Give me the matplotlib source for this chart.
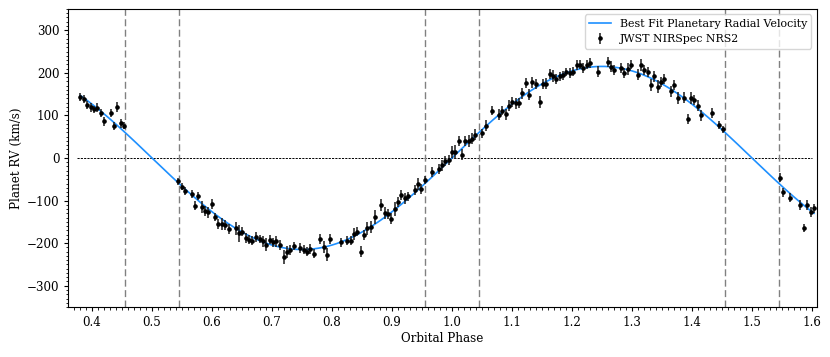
import numpy as np
import matplotlib
matplotlib.use("Agg")
import matplotlib.pyplot as plt
from matplotlib.ticker import MultipleLocator

# ---- data ----
phase_seg1 = [0.3805, 0.3862, 0.3922, 0.3978, 0.4033, 0.4088, 0.4145, 0.42, 0.4312,
              0.4367, 0.4422, 0.4478, 0.4533]
rv_seg1 = [143, 139, 125, 119, 114, 118, 106, 86, 106, 75, 120, 81, 76]
err_seg1 = [9, 9, 9, 10, 9, 10, 10, 11, 10, 10, 11, 10, 9]

phase_seg2 = [0.5438, 0.5495, 0.555, 0.5662, 0.5717, 0.5772, 0.5828, 0.5883, 0.5938, 0.5995,
              0.605, 0.6105, 0.6162, 0.6217, 0.6283, 0.6395, 0.645, 0.6505, 0.6562, 0.6617,
              0.6672, 0.6738, 0.6795, 0.685, 0.6905, 0.6962, 0.7017, 0.7072, 0.7128, 0.7195,
              0.725, 0.7305, 0.7362, 0.7472, 0.7528, 0.7583, 0.7638, 0.7695, 0.7805, 0.7862,
              0.7917, 0.7972, 0.8145, 0.8255, 0.8312, 0.8367, 0.8422, 0.8478, 0.8533, 0.8588,
              0.8645, 0.8712, 0.8822, 0.8878, 0.8933, 0.8988, 0.9045, 0.91, 0.9155, 0.9212,
              0.9267, 0.9378, 0.9433, 0.9488, 0.9555, 0.9667, 0.9778, 0.9833, 0.9888, 0.9945,
              1.0, 1.0055, 1.0112, 1.0167, 1.0222, 1.0278, 1.0333, 1.0388, 1.0505, 1.0562,
              1.0672, 1.0783, 1.0838, 1.0895, 1.095, 1.1005, 1.1062, 1.1117, 1.1172, 1.1228,
              1.1283, 1.1338, 1.1395, 1.1462, 1.1517, 1.1572, 1.1628, 1.1683, 1.1738, 1.1795,
              1.185, 1.1905, 1.1962, 1.2017, 1.2078, 1.2133, 1.2188, 1.2245, 1.23, 1.2428,
              1.2595, 1.265, 1.2705, 1.2817, 1.2872, 1.2928, 1.2983, 1.3095, 1.315, 1.3205,
              1.3262, 1.3317, 1.3372, 1.3428, 1.3483, 1.3538, 1.365, 1.3705, 1.3762, 1.3872,
              1.3928, 1.3983, 1.4038, 1.4095, 1.415, 1.4333, 1.445, 1.4512]
rv_seg2 = [-55, -67, -77, -85, -112, -89, -116, -124, -128, -108,
           -139, -155, -155, -157, -167, -165, -177, -173, -188, -192,
           -194, -186, -190, -196, -204, -192, -198, -196, -204, -233,
           -221, -217, -207, -211, -215, -220, -213, -225, -190, -209,
           -227, -190, -198, -194, -194, -178, -173, -220, -181, -165,
           -163, -139, -110, -129, -131, -143, -120, -104, -87, -95,
           -90, -75, -61, -73, -52, -33, -26, -17, -7, -4,
           14, 14, 40, 8, 40, 40, 45, 55, 58, 76,
           111, 102, 111, 103, 123, 131, 128, 129, 152, 176,
           149, 178, 173, 131, 174, 174, 198, 192, 185, 192,
           194, 202, 200, 203, 219, 219, 211, 219, 223, 203,
           225, 214, 207, 211, 200, 209, 219, 196, 219, 206,
           201, 172, 192, 167, 178, 186, 157, 172, 141, 141,
           92, 141, 137, 123, 100, 106, 77, 67]
err_seg2 = [8, 8, 9, 9, 11, 10, 14, 12, 12, 11,
            10, 12, 14, 11, 12, 15, 20, 11, 12, 10,
            10, 11, 10, 12, 15, 11, 10, 12, 12, 16,
            14, 12, 10, 11, 10, 10, 12, 11, 12, 13,
            15, 12, 11, 10, 11, 14, 11, 13, 12, 15,
            14, 16, 14, 14, 12, 13, 16, 12, 12, 13,
            11, 12, 14, 11, 10, 11, 12, 13, 11, 12,
            13, 16, 11, 12, 12, 14, 13, 12, 11, 12,
            11, 12, 11, 13, 12, 12, 14, 12, 13, 12,
            12, 13, 12, 14, 12, 13, 12, 14, 12, 11,
            11, 10, 12, 11, 12, 11, 12, 11, 11, 12,
            11, 13, 12, 11, 12, 13, 11, 13, 14, 12,
            12, 14, 13, 15, 12, 12, 13, 12, 14, 13,
            12, 15, 12, 12, 13, 11, 10, 9]

phase_seg3 = [1.5467, 1.5522, 1.5633, 1.58, 1.5867, 1.5922, 1.5978, 1.6033]
rv_seg3 = [-46, -81, -93, -110, -165, -110, -126, -118]
err_seg3 = [10, 10, 10, 11, 10, 11, 12, 11]

# best-fit circular-orbit model parameter (km/s)
fit_amplitude = 215.0
# transit / eclipse contact phases
contact_phases = [0.455, 0.545, 0.955, 1.045, 1.455, 1.545]

phase = np.array(phase_seg1 + phase_seg2 + phase_seg3)
rv = np.array(rv_seg1 + rv_seg2 + rv_seg3, dtype=float)
err = np.array(err_seg1 + err_seg2 + err_seg3, dtype=float)

plt.rcParams['font.family'] = ['DejaVu Serif']
plt.rcParams['font.size'] = 8.6

fig, ax = plt.subplots(figsize=(8.3, 3.57), dpi=100)
fig.subplots_adjust(left=0.0823, right=0.9843, bottom=0.14, top=0.975)

model_phase = np.linspace(phase.min(), phase.max(), 800)
model_rv = fit_amplitude * np.sin(2 * np.pi * model_phase)

ax.plot(model_phase, model_rv, color='#1E90FF', lw=1.2,
        label='Best Fit Planetary Radial Velocity', zorder=3)
ax.errorbar(phase, rv, yerr=err, fmt='o', color='k', ecolor='0.1', ms=2.3,
            elinewidth=1.1, capsize=0, label='JWST NIRSpec NRS2', zorder=4)

ax.hlines(0, phase.min() - 0.005, phase.max() - 0.003, colors='k',
          linestyles=(0, (2.2, 1.2)), lw=0.7, zorder=1)
for c in contact_phases:
    ax.axvline(c, color='grey', ls=(0, (5, 2.5)), lw=1.0, zorder=1)

ax.set_xlim(0.3605, 1.6083)
ax.set_ylim(-350, 350)
ax.xaxis.set_major_locator(MultipleLocator(0.1))
ax.xaxis.set_minor_locator(MultipleLocator(0.01))
ax.yaxis.set_major_locator(MultipleLocator(100))
ax.yaxis.set_minor_locator(MultipleLocator(10))
ax.tick_params(which='major', length=3, width=0.8)
ax.tick_params(which='minor', length=1.8, width=0.6)

ax.set_xlabel('Orbital Phase', labelpad=2)
ax.set_ylabel('Planet RV (km/s)', labelpad=3)

ax.legend(loc='upper right', fontsize=7.9, handlelength=2.0, borderaxespad=0.5)

fig.savefig('out.png', dpi=100)
